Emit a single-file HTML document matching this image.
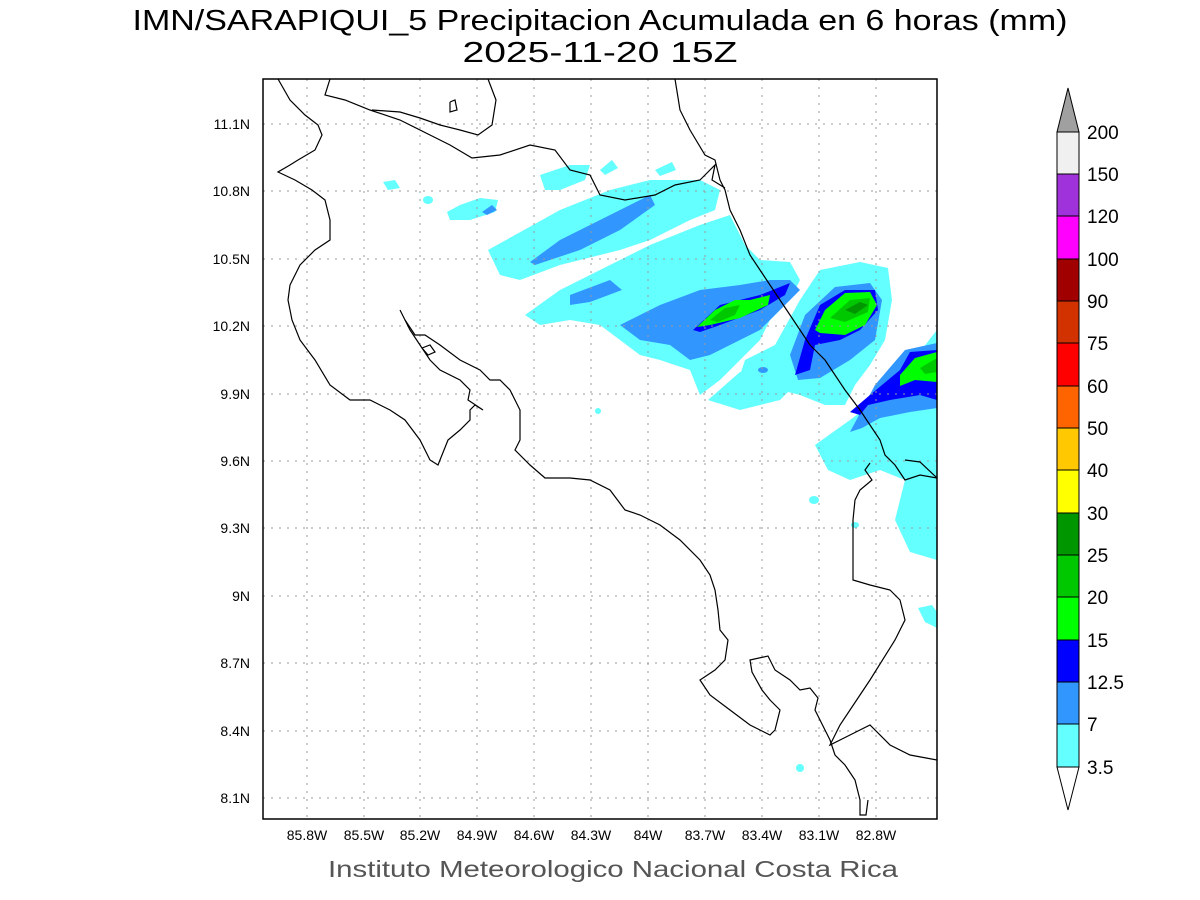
<!DOCTYPE html>
<html><head><meta charset="utf-8"><style>
html,body{margin:0;padding:0;background:#fff;}
svg{display:block;font-family:"Liberation Sans",sans-serif;}
</style></head><body>
<svg width="1200" height="900" viewBox="0 0 1200 900" xmlns="http://www.w3.org/2000/svg">
<rect width="1200" height="900" fill="#fff"/>
<text x="600" y="30" font-size="29" text-anchor="middle" fill="#000" textLength="935" lengthAdjust="spacingAndGlyphs">IMN/SARAPIQUI_5 Precipitacion Acumulada en 6 horas (mm)</text>
<text x="600" y="62" font-size="29" text-anchor="middle" fill="#000" textLength="275" lengthAdjust="spacingAndGlyphs">2025-11-20 15Z</text>

<g clip-path="url(#c)">
<clipPath id="c"><rect x="263" y="79" width="674" height="740"/></clipPath>
<!-- cyan 3.5 -->
<g fill="#64ffff">
<polygon points="488,250 515,235 560,210 610,190 650,180 700,180 720,190 715,210 690,220 650,240 620,250 560,265 520,280 500,275"/>
<polygon points="525,315 560,290 600,270 650,245 700,225 730,215 745,245 760,260 790,262 800,280 790,300 770,320 760,340 740,360 720,380 700,395 690,370 660,360 640,355 620,340 600,325 570,320 540,325"/>
<polygon points="775,345 800,300 820,270 860,262 888,268 892,300 885,340 870,365 855,385 845,405 825,405 800,395 780,390 760,385 740,375 745,360"/>
<polygon points="708,400 740,372 780,360 800,380 780,400 740,410"/>
<polygon points="815,445 850,420 890,390 937,330 937,560 910,552 895,520 905,480 880,470 850,480 828,470"/>
<polygon points="540,175 570,165 590,165 585,180 560,190 545,190"/>
<polygon points="383,182 395,180 400,188 388,190"/>
<polygon points="918,608 932,605 937,612 937,628 925,622"/>
<polygon points="600,170 612,160 618,168 605,175"/>
<polygon points="655,170 672,162 676,170 660,176"/>
<polygon points="447,212 460,205 480,198 498,200 495,212 470,220 450,220"/>
<ellipse cx="428" cy="200" rx="5" ry="4"/>
<ellipse cx="598" cy="411" rx="3" ry="3"/>
<ellipse cx="814" cy="500" rx="5" ry="4"/>
<ellipse cx="855" cy="525" rx="4" ry="3"/>
<ellipse cx="800" cy="768" rx="4" ry="4"/>
</g>
<!-- 7 -->
<g fill="#3296ff">
<polygon points="530,262 560,240 600,220 650,195 655,205 620,230 580,250 535,265"/>
<polygon points="570,295 610,280 622,290 590,302 570,305"/>
<polygon points="620,325 660,305 700,290 740,285 770,280 790,280 800,290 780,310 760,330 740,340 710,355 690,360 670,345 640,340"/>
<polygon points="790,355 805,315 835,287 870,283 882,300 875,340 850,360 820,378 798,380"/>
<polygon points="850,432 875,385 905,350 937,343 937,408 910,412 880,418 862,428"/>
<polygon points="482,212 492,205 497,210 487,215"/>
<ellipse cx="763" cy="370" rx="5" ry="3"/>
</g>
<!-- 12.5 -->
<g fill="#0000ff">
<polygon points="693,330 720,305 760,295 790,283 785,295 760,310 720,325 700,332"/>
<polygon points="795,375 805,340 820,305 845,290 875,290 878,310 860,330 840,340 815,345 810,370"/>
<polygon points="850,412 870,395 900,370 910,352 937,350 937,400 920,395 890,400 868,405 860,415"/>
</g>
<!-- 15 -->
<g fill="#00ff00">
<polygon points="697,327 715,310 735,300 750,300 770,295 768,305 740,318 710,325"/>
<polygon points="815,330 825,310 845,293 870,292 877,305 865,325 845,335 820,333"/>
<polygon points="900,375 915,358 937,352 937,382 915,380 900,386"/>
</g>
<g fill="#00c800">
<polygon points="710,320 725,308 740,305 735,315 718,322"/>
<polygon points="830,318 850,300 870,298 868,312 845,322"/>
<polygon points="920,368 937,358 937,372 925,374"/>
</g>
<g fill="#009600"><polygon points="845,310 860,302 868,305 855,314"/></g>
</g>

<!-- grid -->
<g stroke="#999" stroke-width="1" stroke-dasharray="2,6">
<line x1="307" y1="79" x2="307" y2="819"/><line x1="364" y1="79" x2="364" y2="819"/><line x1="420" y1="79" x2="420" y2="819"/><line x1="477" y1="79" x2="477" y2="819"/><line x1="534" y1="79" x2="534" y2="819"/><line x1="591" y1="79" x2="591" y2="819"/><line x1="648" y1="79" x2="648" y2="819"/><line x1="705" y1="79" x2="705" y2="819"/><line x1="762" y1="79" x2="762" y2="819"/><line x1="819" y1="79" x2="819" y2="819"/><line x1="876" y1="79" x2="876" y2="819"/>
<line x1="263" y1="124" x2="937" y2="124"/><line x1="263" y1="191" x2="937" y2="191"/><line x1="263" y1="259" x2="937" y2="259"/><line x1="263" y1="326" x2="937" y2="326"/><line x1="263" y1="394" x2="937" y2="394"/><line x1="263" y1="461" x2="937" y2="461"/><line x1="263" y1="528" x2="937" y2="528"/><line x1="263" y1="596" x2="937" y2="596"/><line x1="263" y1="663" x2="937" y2="663"/><line x1="263" y1="731" x2="937" y2="731"/><line x1="263" y1="798" x2="937" y2="798"/>
</g>

<!-- coastlines -->
<g clip-path="url(#c)" fill="none" stroke="#000" stroke-width="1.2">
<polyline points="278,79 290,100 305,115 318,125 322,135 315,150 298,160 290,165 278,172 295,180 312,190 325,200 330,220 330,240 315,250 300,265 290,285 288,300 292,320 300,340 315,360 330,385 350,400 370,400 390,410 405,420 420,440 430,460 438,465 448,440 460,430 470,420 470,410 475,405 483,410 468,400 470,390 460,380 440,370 430,360 420,345 410,330 400,310"/>
<polyline points="405,320 415,335 425,335 440,345 460,360 480,370 490,380 500,380 510,390 520,410 520,440 515,450 530,465 545,478 570,478 590,480 610,490 625,510 640,515 660,525 680,540 700,560 710,575 715,590 718,610 720,630 728,640 725,660 715,670 700,680 710,695 730,710 750,725 770,735 775,730 780,710 770,700 762,690 752,672 750,660 768,656 775,670 790,680 800,690 810,688 818,698 815,710 820,720 830,740 835,755 845,765 855,780 860,800 860,815 866,815 868,800"/>
<polyline points="870,463 865,470 872,480 860,490 855,500 853,520 853,580 870,585 890,590 900,600 905,620 895,640 870,680 850,710 840,725 830,745 850,735 870,725 890,745 910,755 937,760"/>
<polyline points="675,79 680,110 690,130 705,155 715,160 720,180 725,190 730,210 740,230 750,255 760,270 770,285 780,300 790,315 800,330 810,345 825,360 835,375 845,390 860,410 870,425 880,440 885,455 895,465 905,480 920,475 937,478"/>
<polyline points="330,79 325,95 345,100 370,110 400,120 430,135 450,145 472,158 500,155 530,145 555,150 570,170 590,175 600,195 625,200 655,195 675,185 700,180 715,165 712,180 725,188"/>
<polyline points="488,79 496,100 492,125 478,135 460,130 440,125 420,118 400,112 372,110"/>
<polyline points="450,102 455,100 457,110 450,112 450,102"/>
<polyline points="422,348 430,345 435,352 428,355 422,348"/>
<polyline points="905,460 920,462 937,478"/>
</g>
<rect x="263" y="79" width="674" height="740" fill="none" stroke="#000" stroke-width="1.5"/>

<!-- axis labels -->
<g font-size="14" fill="#000" text-anchor="middle">
<text x="307" y="840">85.8W</text><text x="364" y="840">85.5W</text><text x="420" y="840">85.2W</text><text x="477" y="840">84.9W</text><text x="534" y="840">84.6W</text><text x="591" y="840">84.3W</text><text x="648" y="840">84W</text><text x="705" y="840">83.7W</text><text x="762" y="840">83.4W</text><text x="819" y="840">83.1W</text><text x="876" y="840">82.8W</text>
</g>
<g font-size="14" fill="#000" text-anchor="end">
<text x="250" y="129">11.1N</text><text x="250" y="196">10.8N</text><text x="250" y="264">10.5N</text><text x="250" y="331">10.2N</text><text x="250" y="399">9.9N</text><text x="250" y="466">9.6N</text><text x="250" y="533">9.3N</text><text x="250" y="601">9N</text><text x="250" y="668">8.7N</text><text x="250" y="736">8.4N</text><text x="250" y="803">8.1N</text>
</g>
<text x="613" y="877" font-size="23" text-anchor="middle" fill="#555" textLength="570" lengthAdjust="spacingAndGlyphs">Instituto Meteorologico Nacional Costa Rica</text>

<!-- colorbar -->
<g stroke="#000" stroke-width="1">
<polygon points="1057,132 1079,132 1068,88" fill="#a0a0a0"/>
<rect x="1057" y="132" width="22" height="42" fill="#f0f0f0"/>
<rect x="1057" y="174" width="22" height="42" fill="#a032dc"/>
<rect x="1057" y="216" width="22" height="43" fill="#ff00ff"/>
<rect x="1057" y="259" width="22" height="42" fill="#a00000"/>
<rect x="1057" y="301" width="22" height="42" fill="#d23200"/>
<rect x="1057" y="343" width="22" height="43" fill="#ff0000"/>
<rect x="1057" y="386" width="22" height="42" fill="#ff6400"/>
<rect x="1057" y="428" width="22" height="42" fill="#ffc800"/>
<rect x="1057" y="470" width="22" height="43" fill="#ffff00"/>
<rect x="1057" y="513" width="22" height="42" fill="#009600"/>
<rect x="1057" y="555" width="22" height="42" fill="#00c800"/>
<rect x="1057" y="597" width="22" height="43" fill="#00ff00"/>
<rect x="1057" y="640" width="22" height="42" fill="#0000ff"/>
<rect x="1057" y="682" width="22" height="42" fill="#3296ff"/>
<rect x="1057" y="724" width="22" height="43" fill="#64ffff"/>
<polygon points="1057,767 1079,767 1068,810" fill="#fff"/>
</g>
<g font-size="19" fill="#000">
<text x="1087" y="139">200</text><text x="1087" y="181">150</text><text x="1087" y="223">120</text><text x="1087" y="266">100</text><text x="1087" y="308">90</text><text x="1087" y="350">75</text><text x="1087" y="393">60</text><text x="1087" y="435">50</text><text x="1087" y="477">40</text><text x="1087" y="520">30</text><text x="1087" y="562">25</text><text x="1087" y="604">20</text><text x="1087" y="647">15</text><text x="1087" y="689">12.5</text><text x="1087" y="731">7</text><text x="1087" y="774">3.5</text>
</g>
</svg>
</body></html>
